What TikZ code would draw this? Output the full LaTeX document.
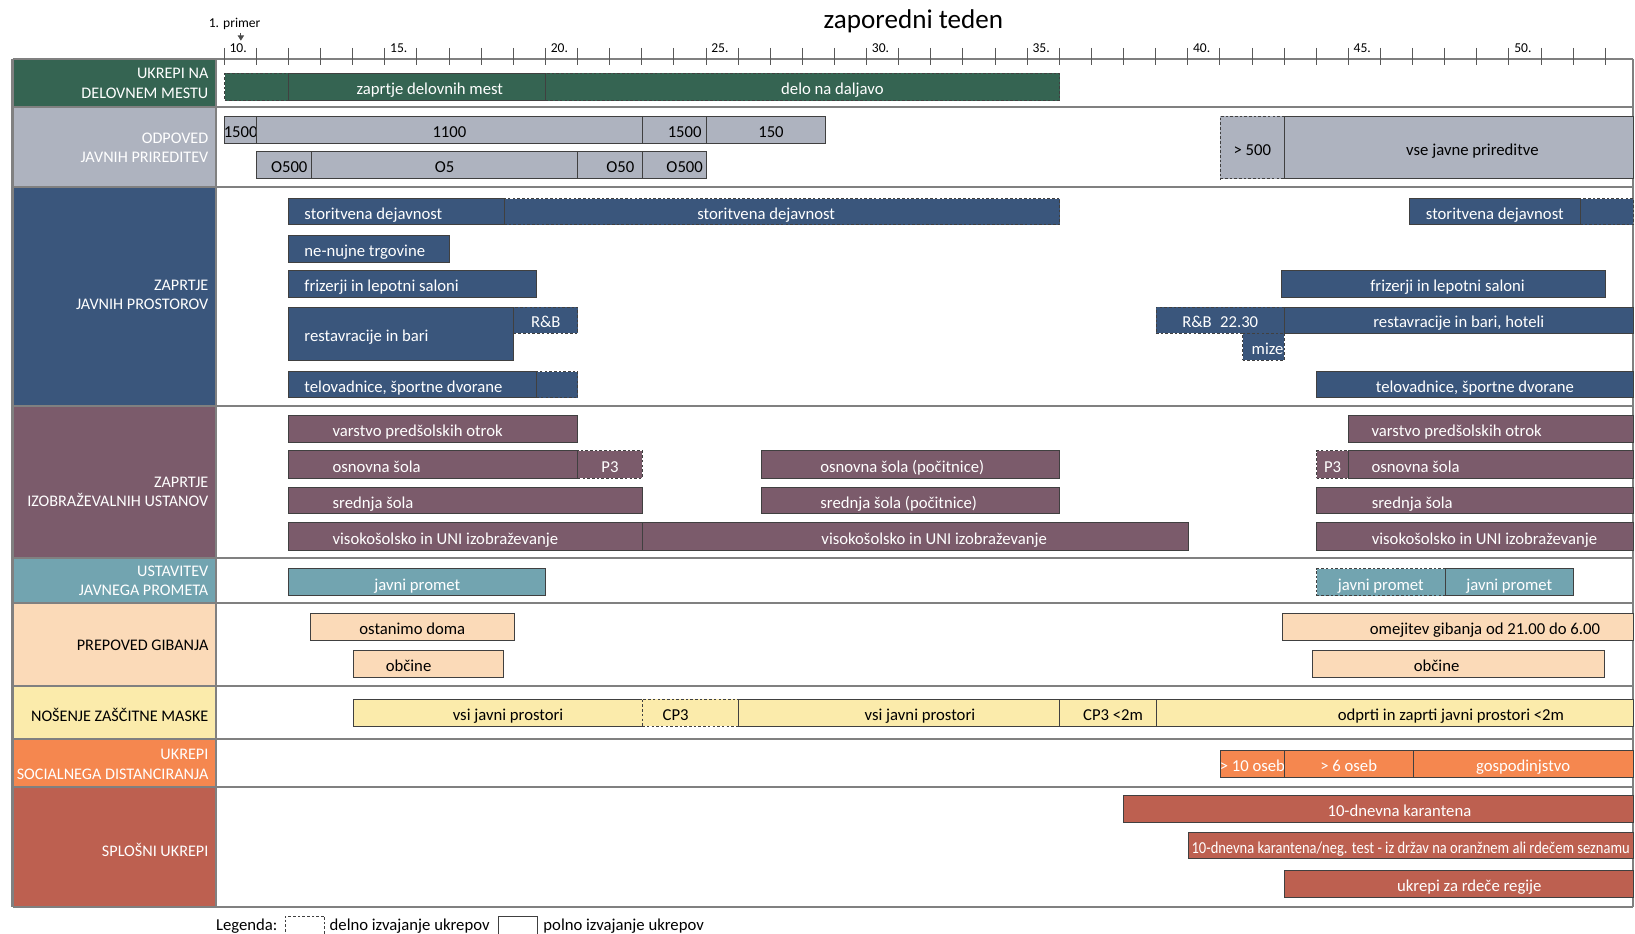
\documentclass[tikz,border=0pt]{standalone}
\usepackage{fontspec}
\setmainfont{Carlito}
\usepackage{graphicx}
\usetikzlibrary{arrows.meta, positioning}

\definecolor{cZelena}{HTML}{356452}
\definecolor{cSiva}{HTML}{AEB3BF}
\definecolor{cModra}{HTML}{3A567C}
\definecolor{cVijol}{HTML}{7B5B6B}
\definecolor{cTurkiz}{HTML}{72A4B0}
\definecolor{cBreskev}{HTML}{FBDAB8}
\definecolor{cRumena}{HTML}{FBEBAB}
\definecolor{cOranzna}{HTML}{F5874F}
\definecolor{cOpeka}{HTML}{BD6050}

\newcommand{\fbar}{\fontsize{16}{18}\selectfont}
\newcommand{\foz}{\fontsize{15.5}{18.5}\selectfont}
\newcommand{\ftick}{\fontsize{13}{15}\selectfont}

% week -> x
\newcommand{\wx}[1]{215+30.8*(#1-10)}
\newcommand{\konec}{53.86}
\newlength{\ukw}
% [style]{name}{from week}{to week}{top}{bottom}{text}
\newcommand{\ukrep}[7][]{%
  \pgfmathsetlength{\ukw}{30.8*(#4-#3)}%
  \node[ukrep, #1, minimum height={(#6-#5)*1pt}, anchor=north west] (#2) at ({\wx{#3}}, #5) {\makebox[\ukw]{#7}};}

\begin{document}
\begin{tikzpicture}[
        x=1pt, y=-1pt,
        ukrep/.style={draw=black!75, line width=0.8pt, inner sep=0pt, font=\fbar, text height=15pt, text depth=0pt},
        delno/.style={dash pattern=on 2.5pt off 2pt},
        zelena/.style={fill=cZelena, text=white},
        siva/.style={fill=cSiva, text=black},
        modra/.style={fill=cModra, text=white},
        vijol/.style={fill=cVijol, text=white},
        turkiz/.style={fill=cTurkiz, text=white},
        breskev/.style={fill=cBreskev, text=black},
        rumena/.style={fill=cRumena, text=black},
        oranzna/.style={fill=cOranzna, text=white},
        opeka/.style={fill=cOpeka, text=white},
        oznaka/.style={anchor=east, align=right, font=\foz, inner sep=0pt},
        crtica/.style={draw=gray!70!black, line width=0.8pt},
        okvir/.style={draw=black!50, line width=2pt}
    ]
    \useasboundingbox (0,0) rectangle (1568,895);

    % naslov in os
    \node[font=\fontsize{26}{30}\selectfont] (naslov) at (876,20) {zaporedni teden};
    \node[font=\ftick] (primer) at (225,23) {1. primer};
    \coordinate (t10) at (231,39);
    \draw[-{Triangle[length=5pt,width=6pt]}, gray!60!black, line width=0.8pt] (primer.south -| t10) -- (t10);
    \foreach \w in {10,15,...,50}
        \node[anchor=west, font=\ftick, inner sep=0pt] (oz\w) at ({\wx{\w}+5}, 46) {\w.};

    % stolpec z oznakami
    \fill[cZelena] (12,57) rectangle (207,103);
    \fill[cSiva] (12,103) rectangle (207,179);
    \fill[cModra] (12,179) rectangle (207,389);
    \fill[cVijol] (12,389) rectangle (207,535);
    \fill[cTurkiz] (12,535) rectangle (207,578);
    \fill[cBreskev] (12,578) rectangle (207,658);
    \fill[cRumena] (12,658) rectangle (207,709);
    \fill[cOranzna] (12,709) rectangle (207,755);
    \fill[cOpeka] (12,755) rectangle (207,870);

    \node[oznaka, text=white] (r1) at (200,80) {UKREPI NA\\DELOVNEM MESTU};
    \node[oznaka, text=white] (r2) at (200,142) {ODPOVED\\JAVNIH PRIREDITEV};
    \node[oznaka, text=white] (r3) at (200,283) {ZAPRTJE\\JAVNIH PROSTOROV};
    \node[oznaka, text=white] (r4) at (200,472) {ZAPRTJE\\IZOBRAŽEVALNIH USTANOV};
    \node[oznaka, text=white] (r5) at (200,557) {USTAVITEV\\JAVNEGA PROMETA};
    \node[oznaka] (r6) at (200,619) {PREPOVED GIBANJA};
    \node[oznaka] (r7) at (200,686) {NOŠENJE ZAŠČITNE MASKE};
    \node[oznaka, text=white] (r8) at (200,733) {UKREPI\\SOCIALNEGA DISTANCIRANJA};
    \node[oznaka, text=white] (r9) at (200,815) {SPLOŠNI UKREPI};

    % okvir
    \foreach \y in {57,103,179,389,535,578,658,709,755,870}
        \draw[okvir] (12,\y) -- (1566,\y);
    \draw[okvir] (12,57) -- (12,870);
    \draw[okvir] (207,57) -- (207,870);
    \draw[okvir] (1566,57) -- (1566,870);
    \foreach \w in {10,...,53}
        \draw[crtica] ({\wx{\w}},46) -- ({\wx{\w}},62);

    % delovno mesto
    \ukrep[zelena,delno]{d0}{10}{12}{70}{96}{}
    \ukrep[zelena]{d1}{12}{20}{70}{96}{\hspace*{24pt}zaprtje delovnih mest}
    \ukrep[zelena,delno]{d2}{20}{36}{70}{96}{\hspace*{57pt}delo na daljavo}

    % prireditve
    \ukrep[siva]{p1}{10}{11}{111}{137}{1500}
    \ukrep[siva]{p2}{11}{23}{111}{137}{1100}
    \ukrep[siva]{p3}{23}{25}{111}{137}{\hspace*{20pt}1500}
    \ukrep[siva]{p4}{25}{28.7}{111}{137}{\hspace*{10pt}150}
    \ukrep[siva]{p5}{11}{12.7}{145}{171}{\hspace*{10pt}O500}
    \ukrep[siva]{p6}{12.7}{21}{145}{171}{O5}
    \ukrep[siva]{p7}{21}{23}{145}{171}{\hspace*{20pt}O50}
    \ukrep[siva]{p8}{23}{25}{145}{171}{\hspace*{20pt}O500}
    \ukrep[siva,delno]{p9}{41}{43}{111}{171}{> 500}
    \ukrep[siva]{p10}{43}{\konec}{111}{171}{\hspace*{26pt}vse javne prireditve}

    % javni prostori
    \ukrep[modra,delno]{s2}{18.7}{36}{190}{215}{storitvena dejavnost\hspace*{30pt}}
    \ukrep[modra]{s1}{12}{18.7}{190}{215}{\hspace*{15pt}storitvena dejavnost\hfill}
    \ukrep[modra,delno]{s4}{52.2}{\konec}{190}{215}{}
    \ukrep[modra]{s3}{46.9}{52.2}{190}{215}{storitvena dejavnost}
    \ukrep[modra]{s5}{12}{17}{225}{251}{\hspace*{15pt}ne-nujne trgovine\hfill}
    \ukrep[modra]{s6}{12}{19.7}{259}{285}{\hspace*{15pt}frizerji in lepotni saloni\hfill}
    \ukrep[modra]{s7}{42.9}{53}{259}{285}{\hspace*{8pt}frizerji in lepotni saloni}
    \ukrep[modra,delno]{s9}{19}{21}{294}{319}{R\&B}
    \ukrep[modra]{s8}{12}{19}{294}{345}{\hspace*{15pt}restavracije in bari\hfill}
    \ukrep[modra,delno]{s10}{39}{43}{294}{319}{R\&B\enspace 22.30}
    \ukrep[modra,delno]{s12}{41.7}{43}{319}{345}{\hfill mize\hspace*{1pt}}
    \ukrep[modra]{s11}{43}{\konec}{294}{319}{restavracije in bari, hoteli}
    \ukrep[modra,delno]{s14}{19.7}{21}{356}{381}{}
    \ukrep[modra]{s13}{12}{19.7}{356}{381}{\hspace*{15pt}telovadnice, športne dvorane\hfill}
    \ukrep[modra]{s15}{44}{\konec}{356}{381}{telovadnice, športne dvorane}

    % izobrazevalne ustanove
    \ukrep[vijol]{i1}{12}{21}{398}{424}{\hspace*{42pt}varstvo predšolskih otrok\hfill}
    \ukrep[vijol]{i2}{45}{\konec}{398}{424}{\hspace*{22pt}varstvo predšolskih otrok\hfill}
    \ukrep[vijol,delno]{i4}{21}{23}{432}{458}{P3}
    \ukrep[vijol]{i3}{12}{21}{432}{458}{\hspace*{42pt}osnovna šola\hfill}
    \ukrep[vijol]{i5}{26.7}{36}{432}{458}{\hspace*{57pt}osnovna šola (počitnice)\hfill}
    \ukrep[vijol,delno]{i6}{44}{45}{432}{458}{P3}
    \ukrep[vijol]{i7}{45}{\konec}{432}{458}{\hspace*{22pt}osnovna šola\hfill}
    \ukrep[vijol]{i8}{12}{23}{467}{492}{\hspace*{42pt}srednja šola\hfill}
    \ukrep[vijol]{i9}{26.7}{36}{467}{492}{\hspace*{57pt}srednja šola (počitnice)\hfill}
    \ukrep[vijol]{i10}{44}{\konec}{467}{492}{\hspace*{53pt}srednja šola\hfill}
    \ukrep[vijol]{i11}{12}{23}{501}{527}{\hspace*{42pt}visokošolsko in UNI izobraževanje\hfill}
    \ukrep[vijol]{i12}{23}{40}{501}{527}{\hspace*{172pt}visokošolsko in UNI izobraževanje\hfill}
    \ukrep[vijol]{i13}{44}{\konec}{501}{527}{\hspace*{53pt}visokošolsko in UNI izobraževanje\hfill}

    % javni promet
    \ukrep[turkiz]{j1}{12}{20}{545}{571}{javni promet}
    \ukrep[turkiz,delno]{j2}{44}{48}{545}{571}{javni promet}
    \ukrep[turkiz]{j3}{48}{52}{545}{571}{javni promet}

    % gibanje
    \ukrep[breskev]{g1}{12.66}{19.03}{588}{614}{ostanimo doma}
    \ukrep[breskev]{g2}{14}{18.69}{623}{649}{občine\hspace*{38pt}}
    \ukrep[breskev]{g3}{42.94}{\konec}{588}{614}{\hspace*{52pt}omejitev gibanja od 21.00 do 6.00}
    \ukrep[breskev]{g4}{43.87}{52.97}{623}{649}{občine\hspace*{42pt}}

    % maske
    \ukrep[rumena]{m1}{14}{23}{670}{696}{\hspace*{20pt}vsi javni prostori}
    \ukrep[rumena,delno]{m2}{23}{26}{670}{696}{CP3\hspace*{28pt}}
    \ukrep[rumena]{m3}{26}{36}{670}{696}{\hspace*{40pt}vsi javni prostori}
    \ukrep[rumena]{m4}{36}{39}{670}{696}{\hspace*{10pt}CP3 <2m}
    \ukrep[rumena]{m5}{39}{\konec}{670}{696}{\hspace*{108pt}odprti in zaprti javni prostori <2m}

    % socialno distanciranje
    \ukrep[oranzna]{o1}{41}{43}{719}{745}{> 10 oseb}
    \ukrep[oranzna]{o2}{43}{47}{719}{745}{> 6 oseb}
    \ukrep[oranzna]{o3}{47}{\konec}{719}{745}{gospodinjstvo}

    % splosni ukrepi
    \ukrep[opeka]{u1}{38}{\konec}{762}{788}{\hspace*{40pt}10-dnevna karantena}
    \ukrep[opeka]{u2}{40}{\konec}{798}{823}{\scalebox{0.87}[1]{10-dnevna karantena/neg. test - iz držav na oranžnem ali rdečem seznamu}}
    \ukrep[opeka]{u3}{43}{\konec}{834}{860}{\hspace*{20pt}ukrepi za rdeče regije}

    % legenda
    \node[anchor=base west, font=\fbar, inner sep=0pt] (legenda) at (207,892) {Legenda:};
    \node[draw=black!75, line width=0.8pt, delno, minimum width=38pt, minimum height=24pt, anchor=north west] (lg1) at (273,878) {};
    \node[anchor=base west, font=\fbar, inner sep=0pt] (lt1) at (316,892) {delno izvajanje ukrepov};
    \node[draw=black!75, line width=0.8pt, minimum width=37pt, minimum height=24pt, anchor=north west] (lg2) at (478,878) {};
    \node[anchor=base west, font=\fbar, inner sep=0pt] (lt2) at (521,892) {polno izvajanje ukrepov};
\end{tikzpicture}
\end{document}
